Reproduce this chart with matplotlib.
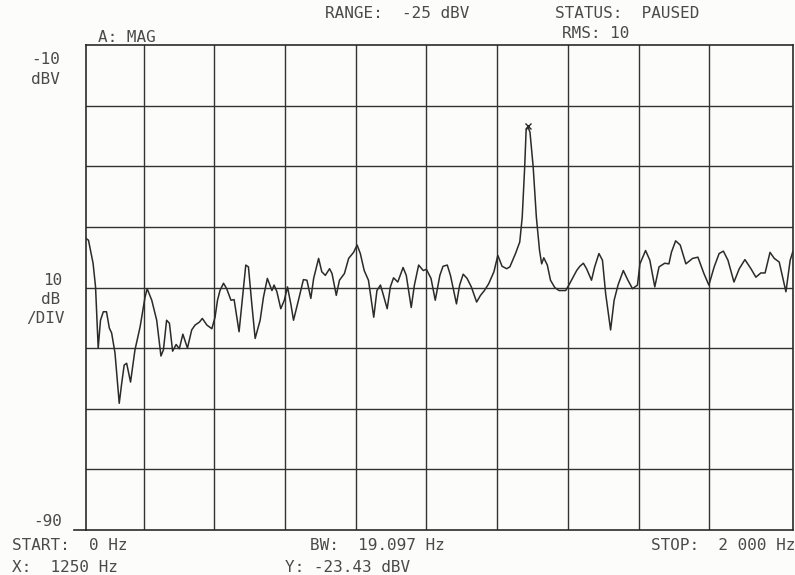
import matplotlib
matplotlib.use("Agg")
import matplotlib.pyplot as plt
import numpy as np

# Spectrum trace (frequency in Hz, magnitude in dBV)
freq_hz = [0, 7, 20, 27, 34.5, 41, 49, 58, 66, 72.5, 82, 94, 101, 108, 115, 126, 138.5, 153,
           167, 173, 186, 200, 212, 219, 228, 236, 245, 255, 264, 274, 287, 299, 308.5, 321,
           329, 342, 356, 365, 372, 379, 389, 398, 410, 419, 433, 441, 452, 459.5, 469, 478.5,
           492.6, 502, 513, 526, 532, 540, 551, 561, 570, 580, 587, 601, 615, 625, 636, 644,
           658, 667, 677, 689, 696, 708, 717, 731, 743, 757, 767, 776, 787, 799, 814, 823,
           833, 840, 852, 861, 870, 882, 897, 906, 920, 929, 941, 954, 963, 976, 988, 1001,
           1010, 1022, 1031, 1048, 1057, 1067, 1078, 1090, 1105, 1116, 1127, 1139, 1154, 1165,
           1177, 1190, 1199, 1215, 1227, 1234, 1241, 1245, 1250, 1256, 1265, 1274, 1283, 1289,
           1295, 1305, 1314, 1326, 1338, 1357, 1366, 1376, 1388, 1397, 1407, 1416, 1430, 1439,
           1451, 1461, 1470, 1484, 1494, 1505, 1520, 1533, 1546, 1560, 1567, 1583, 1595, 1609,
           1621, 1637, 1649, 1656, 1668, 1681, 1697, 1716, 1731, 1748, 1762, 1777, 1791, 1803,
           1816, 1833, 1848, 1864, 1881, 1895, 1909, 1921, 1935, 1947, 1961, 1980, 1992, 2000]
mag_dbv = [-41.9, -42.2, -46.0, -49.9, -60.0, -55.4, -54.0, -54.0, -56.7, -57.5, -60.8, -69.1,
           -65.8, -62.8, -62.5, -65.6, -60.3, -56.5, -51.6, -50.2, -52.1, -55.4, -61.3, -60.3,
           -55.4, -55.9, -60.5, -59.4, -60.1, -57.7, -60.0, -57.0, -56.2, -55.7, -55.1, -56.2,
           -56.8, -54.9, -52.1, -50.5, -49.3, -50.2, -52.1, -52.0, -57.3, -52.7, -46.3, -46.6,
           -52.7, -58.4, -55.4, -51.6, -48.5, -50.5, -49.6, -50.7, -53.5, -52.1, -49.9, -52.9,
           -55.4, -52.1, -48.7, -48.8, -51.8, -48.5, -45.2, -47.4, -48.0, -46.9, -47.7, -51.3,
           -48.8, -47.7, -45.2, -44.2, -43.0, -44.4, -47.2, -48.8, -54.9, -50.5, -49.6, -51.0,
           -53.5, -49.9, -48.4, -49.1, -46.7, -48.0, -53.3, -49.6, -46.3, -47.2, -47.0, -48.5,
           -52.1, -48.0, -46.5, -46.3, -48.0, -52.7, -49.6, -47.8, -48.5, -49.9, -52.4, -51.3,
           -50.5, -49.4, -47.4, -44.7, -46.5, -46.9, -46.6, -44.4, -42.5, -38.4, -30.1, -24.1,
           -23.43, -24.4, -30.1, -38.4, -43.9, -46.1, -45.1, -46.3, -48.8, -50.0, -50.5, -50.5,
           -49.6, -48.5, -47.2, -46.5, -46.0, -46.9, -48.8, -46.6, -44.4, -45.5, -51.0, -57.0,
           -52.1, -49.6, -47.2, -48.8, -50.2, -49.6, -46.1, -43.9, -45.5, -49.9, -46.6, -46.0,
           -46.1, -44.2, -42.3, -43.0, -46.1, -45.2, -45.0, -47.7, -49.6, -46.6, -44.4, -44.0,
           -45.5, -49.1, -46.9, -45.4, -46.9, -48.3, -47.6, -47.6, -44.2, -45.2, -45.8, -50.7,
           -45.5, -44.0]

marker_x = 1250
marker_y = -23.43

y_top, y_bottom = -10, -90
h_grid = [-20, -30, -40, -50, -60, -70, -80]
v_grid = [163, 363, 563, 763, 963, 1163, 1363, 1563, 1763]

W, H = 795, 575
fig = plt.figure(figsize=(W / 100, H / 100), dpi=100)
fig.patch.set_facecolor("#fcfcfb")

ax = fig.add_axes([86 / W, 1 - 530 / H, (793 - 86) / W, (530 - 45) / H])
ax.set_facecolor("#fcfcfb")
ax.set_xlim(0, 2000)
ax.set_ylim(y_bottom, y_top)
ax.set_xticks([])
ax.set_yticks([])
for s in ax.spines.values():
    s.set_color("#2a2a2a")
    s.set_linewidth(1.2)

gcol = "#333333"
for yv in h_grid:
    ax.axhline(yv, color=gcol, lw=1.0, zorder=1)
for xv in v_grid:
    ax.axvline(xv, color=gcol, lw=1.0, zorder=1)

ax.plot(freq_hz, mag_dbv, color="#2b2b2b", lw=1.1, zorder=3, clip_on=True,
        solid_joinstyle="round", solid_capstyle="round")
ax.plot([marker_x], [marker_y], marker="x", color="#2b2b2b", ms=4, mew=1.0, zorder=4)

# small tick extension at -90 left of frame
ax.plot([-0.017, 0], [0, 0], transform=ax.transAxes, color="#2a2a2a", lw=1.2, clip_on=False)

tc = "#4a4a4a"
fam = ["DejaVu Sans Mono"]
fs = 11.5


def t(x, y, s, ha="left"):
    fig.text(x / W, 1 - y / H, s, ha=ha, va="center", fontsize=fs, color=tc, family=fam)


t(325, 14, "RANGE:  -25 dBV")
t(555, 14, "STATUS:  PAUSED")
t(98, 37, "A: MAG")
t(562, 34, "RMS: 10")
t(60, 60, "-10", ha="right")
t(60, 79, "dBV", ha="right")
t(62, 281, "10", ha="right")
t(60, 300, "dB", ha="right")
t(65, 319, "/DIV", ha="right")
t(62, 522, "-90", ha="right")
t(12, 545, "START:  0 Hz")
t(310, 545, "BW:  19.097 Hz")
t(795, 545, "STOP:  2 000 Hz", ha="right")
t(12, 567, "X:  1250 Hz")
t(285, 567, "Y: -23.43 dBV")

fig.savefig("out.png", dpi=100, facecolor=fig.get_facecolor())
